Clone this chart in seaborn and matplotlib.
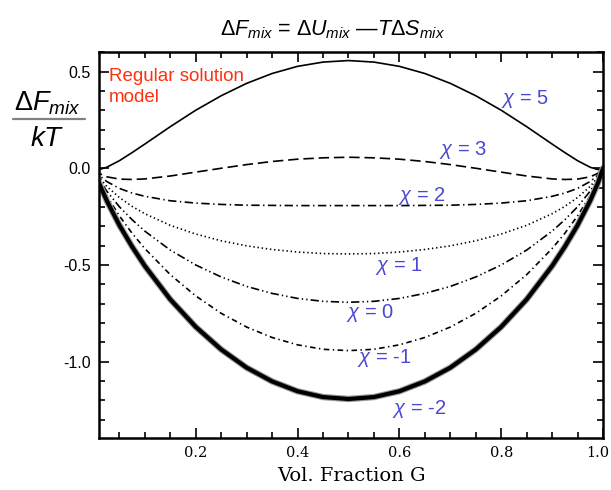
import numpy as np
import pandas as pd
import seaborn as sns
import matplotlib
import matplotlib.pyplot as plt
import matplotlib.patheffects as pe
import matplotlib.transforms as mtransforms
from matplotlib.ticker import MultipleLocator

sns.set_style("ticks")
matplotlib.rcParams["font.family"] = ["Liberation Sans", "DejaVu Sans"]
matplotlib.rcParams["mathtext.fontset"] = "custom"
matplotlib.rcParams["mathtext.rm"] = "Liberation Sans"
matplotlib.rcParams["mathtext.it"] = "Liberation Sans:italic"
matplotlib.rcParams["mathtext.bf"] = "Liberation Sans:bold"
matplotlib.rcParams["lines.scale_dashes"] = False
for key in ["text.color", "axes.labelcolor", "xtick.color", "ytick.color"]:
    matplotlib.rcParams[key] = "black"

# volume fraction of G
phi = [0.0, 0.01, 0.025, 0.05, 0.075, 0.1, 0.15, 0.2, 0.25, 0.3, 0.35, 0.4, 0.45, 0.5,
       0.55, 0.6, 0.65, 0.7, 0.75, 0.8, 0.85, 0.9, 0.925, 0.95, 0.975, 0.99, 1.0]

# dF_mix / kT
f_chi5 = [0.0, -0.007, 0.005, 0.039, 0.081, 0.125, 0.215, 0.300, 0.375, 0.439, 0.490, 0.527, 0.549, 0.557,
          0.549, 0.527, 0.490, 0.439, 0.375, 0.300, 0.215, 0.125, 0.081, 0.039, 0.005, -0.007, 0.0]
f_chi3 = [0.0, -0.026, -0.044, -0.056, -0.058, -0.055, -0.040, -0.020, 0.000, 0.019, 0.035, 0.047, 0.054, 0.057,
          0.054, 0.047, 0.035, 0.019, 0.000, -0.020, -0.040, -0.055, -0.058, -0.056, -0.044, -0.026, 0.0]
f_chi2 = [0.0, -0.036, -0.068, -0.104, -0.128, -0.145, -0.168, -0.180, -0.187, -0.191, -0.192, -0.193, -0.193, -0.193,
          -0.193, -0.193, -0.192, -0.191, -0.187, -0.180, -0.168, -0.145, -0.128, -0.104, -0.068, -0.036, 0.0]
f_chi1 = [0.0, -0.046, -0.093, -0.151, -0.197, -0.235, -0.295, -0.340, -0.375, -0.401, -0.420, -0.433, -0.441, -0.443,
          -0.441, -0.433, -0.420, -0.401, -0.375, -0.340, -0.295, -0.235, -0.197, -0.151, -0.093, -0.046, 0.0]
f_chi0 = [0.0, -0.056, -0.117, -0.199, -0.266, -0.325, -0.423, -0.500, -0.562, -0.611, -0.647, -0.673, -0.688, -0.693,
          -0.688, -0.673, -0.647, -0.611, -0.562, -0.500, -0.423, -0.325, -0.266, -0.199, -0.117, -0.056, 0.0]
f_chim1 = [0.0, -0.066, -0.141, -0.246, -0.336, -0.415, -0.550, -0.660, -0.750, -0.821, -0.875, -0.913, -0.936, -0.943,
           -0.936, -0.913, -0.875, -0.821, -0.750, -0.660, -0.550, -0.415, -0.336, -0.246, -0.141, -0.066, 0.0]
f_chim2 = [0.0, -0.076, -0.166, -0.294, -0.405, -0.505, -0.678, -0.820, -0.937, -1.031, -1.102, -1.153, -1.183, -1.193,
           -1.183, -1.153, -1.102, -1.031, -0.937, -0.820, -0.678, -0.505, -0.405, -0.294, -0.166, -0.076, 0.0]

chi_labels = ["5", "3", "2", "1", "0", "-1", "-2"]
series = [f_chi5, f_chi3, f_chi2, f_chi1, f_chi0, f_chim1, f_chim2]

styles = [
    "-",
    (0, (7.5, 3.5)),
    (0, (6, 2.5, 1, 2.5)),
    (0, (1, 2)),
    (0, (6, 2.2, 1, 2.2, 1, 2.2)),
    (0, (4, 2.5, 1, 2.5)),
    "-",
]
widths = [1.2, 1.2, 1.2, 1.2, 1.2, 1.2, 3.0]
label_pos = [(0.80, 0.36), (0.678, 0.097), (0.597, -0.141), (0.552, -0.503),
             (0.495, -0.746), (0.517, -0.979), (0.585, -1.243)]

fig = plt.figure(figsize=(6.11, 4.9), dpi=100)
ax = fig.add_axes([0.162, 0.106, 0.825, 0.7886])

for vals, ls, lw in zip(series, styles, widths):
    df = pd.DataFrame({"phi": phi, "F": vals})
    sns.lineplot(data=df, x="phi", y="F", ax=ax, color="black", linestyle=ls, lw=lw)

# the chi=-2 curve is drawn with dense star markers in the original -> fuzzy edge
ax.lines[-1].set_path_effects([pe.Stroke(linewidth=4.6, foreground="#9a9a9a"), pe.Normal()])

for lab, (x, y) in zip(chi_labels, label_pos):
    ax.text(x, y, r"$\chi$ = " + lab, color="#4848d0", fontsize=14.5, ha="left", va="center")

ax.text(0.029, 0.42, "Regular solution\nmodel", color="#ff3010", fontsize=13.5,
        ha="left", va="center", linespacing=1.35)

ax.set_xlim(0.01, 1.0)
ax.set_ylim(-1.395, 0.603)
ax.xaxis.set_major_locator(MultipleLocator(0.2))
ax.xaxis.set_minor_locator(MultipleLocator(0.05))
ax.yaxis.set_major_locator(MultipleLocator(0.5))
ax.yaxis.set_minor_locator(MultipleLocator(0.1))
ax.set_xticks([0.2, 0.4, 0.6, 0.8, 1.0])
ax.set_xticklabels(["0.2", "0.4", "0.6", "0.8", "1.0"], fontfamily="DejaVu Serif", fontsize=10.5)
ax.set_yticks([-1.0, -0.5, 0.0, 0.5])
ax.set_yticklabels(["-1.0", "-0.5", "0.0", "0.5"], fontsize=11.5)
ax.tick_params(which="both", direction="in", top=True, right=True, width=1.2, colors="black")
ax.tick_params(which="major", length=7, pad=6)
ax.tick_params(which="minor", length=4)
for s in ax.spines.values():
    s.set_linewidth(1.8)
    s.set_color("black")

# last x label sits right against the figure edge
last = ax.get_xticklabels()[-1]
last.set_transform(last.get_transform() + mtransforms.ScaledTranslation(-4 / 72, 0, fig.dpi_scale_trans))

ax.set_xlabel("Vol. Fraction G", fontfamily="DejaVu Serif", fontsize=14, labelpad=5)
ax.set_ylabel("")

fig.text(0.545, 0.94, r"$\Delta F_{mix}$ = $\Delta U_{mix}$ —$T\Delta S_{mix}$",
         ha="center", va="center", fontsize=15.5)

# y label as a fraction
fig.text(0.077, 0.79, r"$\Delta F_{mix}$", ha="center", va="center", fontsize=19.5)
fig.add_artist(matplotlib.lines.Line2D([0.021, 0.139], [0.757, 0.757], color="#808080", lw=1.6))
fig.text(0.077, 0.716, r"$kT$", ha="center", va="center", fontsize=20)

fig.savefig("out.png", dpi=100)
